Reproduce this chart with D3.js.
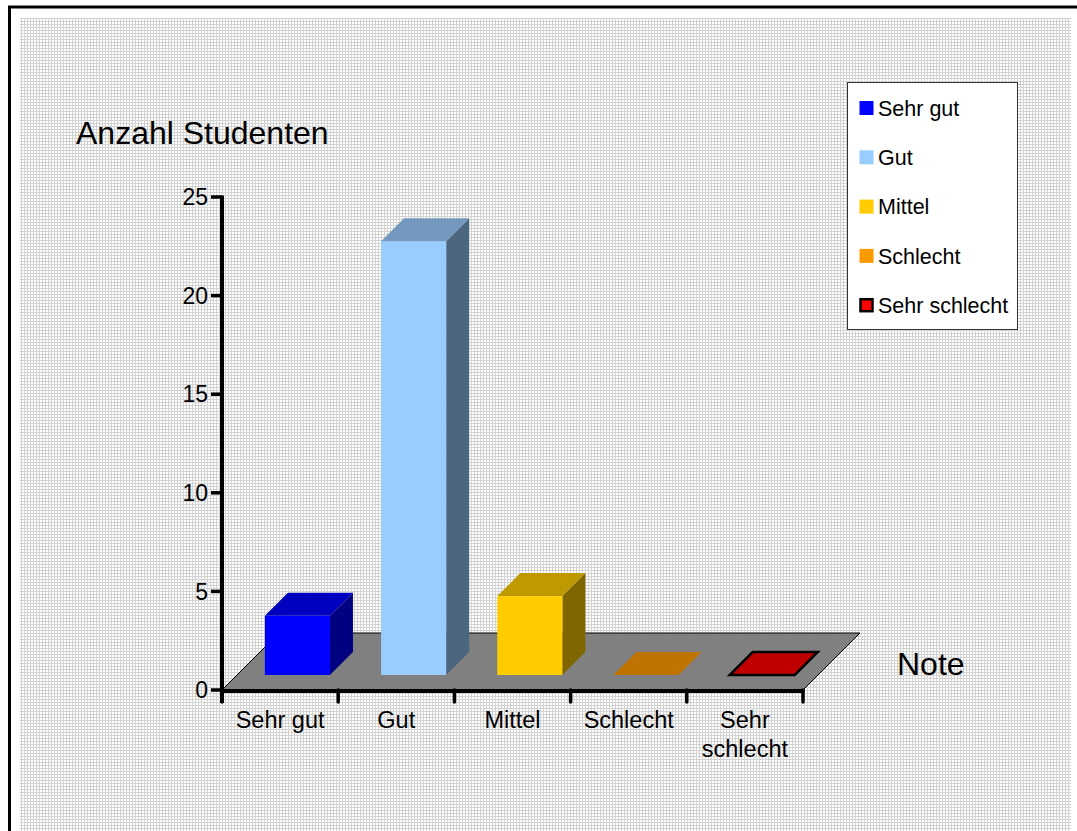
<!DOCTYPE html>
<html>
<head>
<meta charset="utf-8">
<script src="https://cdn.jsdelivr.net/npm/d3@7"></script>
<style>
  html, body { margin: 0; padding: 0; background: #fff; }
  svg { display: block; font-family: "Liberation Sans", Arial, sans-serif; }
</style>
</head>
<body>
<svg id="chart" width="1077" height="831"></svg>
<script>
// Notenverteilung: Anzahl Studenten je Note
const categories = ["Sehr gut", "Gut", "Mittel", "Schlecht", "Sehr schlecht"];
const counts = [3, 22, 4, 0, 0];
const frontColors = ["#0000ff", "#99ccff", "#ffcc00", "#ff9900", "#ff0000"];
const yTicks = [0, 5, 10, 15, 20, 25];
const axisTitleY = "Anzahl Studenten";
const axisTitleX = "Note";

const svg = d3.select("#chart");

// shading helpers for the 3D faces
const shade = (c, k) => { const r = d3.rgb(c); return d3.rgb(r.r * k, r.g * k, r.b * k).formatHex(); };

// background hatch pattern
const defs = svg.append("defs");
const pat = defs.append("pattern").attr("id", "grid").attr("width", 3).attr("height", 3)
  .attr("patternUnits", "userSpaceOnUse");
pat.append("rect").attr("width", 3).attr("height", 3).attr("fill", "#ffffff");
pat.append("rect").attr("x", 0).attr("y", 0).attr("width", 1).attr("height", 3).attr("fill", "#d2d2d2");
pat.append("rect").attr("x", 0).attr("y", 0).attr("width", 3).attr("height", 1).attr("fill", "#d2d2d2");

svg.append("rect").attr("x", 20).attr("y", 18).attr("width", 1051).attr("height", 813).attr("fill", "url(#grid)");
// outer frame (top and left edges)
svg.append("path").attr("d", "M9.5,831 V7 H1077").attr("fill", "none").attr("stroke", "#000").attr("stroke-width", 3);

// plot geometry
const x0 = 222, x1 = 803, yBase = 690, yTop = 197;
const floorDepth = 57;     // depth of the floor in px (45° oblique)
const barFront = 15;       // depth position of the bar front face
const barDepth = 23;       // bar depth

const x = d3.scaleBand().domain(categories).range([x0, x1]).padding(0);
const y = d3.scaleLinear().domain([0, 25]).range([yBase, yTop]);
const bw = x.bandwidth();

// floor
svg.append("path")
  .attr("d", `M${x0},${yBase} L${x1},${yBase} L${x1 + floorDepth},${yBase - floorDepth} L${x0 + floorDepth},${yBase - floorDepth} Z`)
  .attr("fill", "#808080").attr("stroke", "#000").attr("stroke-width", 1);

// bars
const g = svg.append("g");
categories.forEach((c, i) => {
  const v = counts[i];
  const bx = x(c) + barFront + bw * 0.24;
  const bwid = bw * 0.56;
  const yb = y(0) - barFront;
  const yt = y(v) - barFront;
  const d = barDepth;
  const col = frontColors[i];
  const outlined = i === 4;
  const stroke = outlined ? "#000" : "none";
  const sw = outlined ? 2.5 : 0;
  if (v > 0) {
    // side
    g.append("path").attr("d", `M${bx + bwid},${yt} L${bx + bwid + d},${yt - d} L${bx + bwid + d},${yb - d} L${bx + bwid},${yb} Z`)
      .attr("fill", shade(col, 0.5)).attr("stroke", stroke).attr("stroke-width", sw);
    // front
    g.append("rect").attr("x", bx).attr("y", yt).attr("width", bwid).attr("height", yb - yt)
      .attr("fill", col).attr("stroke", stroke).attr("stroke-width", sw);
  }
  // top
  g.append("path").attr("d", `M${bx},${yt} L${bx + bwid},${yt} L${bx + bwid + d},${yt - d} L${bx + d},${yt - d} Z`)
    .attr("fill", shade(col, 0.75)).attr("stroke", stroke).attr("stroke-width", sw).attr("stroke-linejoin", "miter");
});

// y axis
const ax = svg.append("g");
ax.append("line").attr("x1", x0).attr("x2", x0).attr("y1", yTop - 1.5).attr("y2", 703)
  .attr("stroke", "#000").attr("stroke-width", 4);
yTicks.forEach(t => {
  ax.append("line").attr("x1", 211).attr("x2", x0).attr("y1", y(t)).attr("y2", y(t))
    .attr("stroke", "#000").attr("stroke-width", 3.5);
  ax.append("text").attr("x", 208).attr("y", y(t)).attr("dy", "0.36em")
    .attr("text-anchor", "end").attr("font-size", 23).text(t);
});

// x axis
ax.append("line").attr("x1", x0).attr("x2", x1 + 1.5).attr("y1", yBase + 1).attr("y2", yBase + 1)
  .attr("stroke", "#000").attr("stroke-width", 4);
const xTickPos = categories.map(c => x(c) + bw).concat([x0]);
xTickPos.forEach(p => {
  ax.append("line").attr("x1", p).attr("x2", p).attr("y1", yBase).attr("y2", 702)
    .attr("stroke", "#000").attr("stroke-width", 3.5).attr("stroke-linecap", "round");
});
categories.forEach(c => {
  const words = c === "Sehr schlecht" ? ["Sehr", "schlecht"] : [c];
  const t = ax.append("text").attr("x", x(c) + bw / 2).attr("y", 728)
    .attr("text-anchor", "middle").attr("font-size", 23.5);
  words.forEach((w, k) => t.append("tspan").attr("x", x(c) + bw / 2).attr("dy", k === 0 ? 0 : 29).text(w));
});

// axis titles
svg.append("text").attr("x", 76).attr("y", 144).attr("font-size", 32).text(axisTitleY);
svg.append("text").attr("x", 897).attr("y", 675).attr("font-size", 32).text(axisTitleX);

// legend
const lg = svg.append("g");
lg.append("rect").attr("x", 847.5).attr("y", 82.5).attr("width", 170).attr("height", 247)
  .attr("fill", "#fff").attr("stroke", "#333").attr("stroke-width", 1);
categories.forEach((c, i) => {
  const cy = 108 + i * 49.3;
  const outlined = i === 4;
  lg.append("rect").attr("x", outlined ? 860.5 : 859.5).attr("y", cy - 7 + (outlined ? 1 : 0))
    .attr("width", outlined ? 12 : 14).attr("height", outlined ? 12 : 14)
    .attr("fill", frontColors[i]).attr("stroke", outlined ? "#000" : "none").attr("stroke-width", outlined ? 2.5 : 0);
  lg.append("text").attr("x", 878).attr("y", cy).attr("dy", "0.36em").attr("font-size", 21.5).text(c);
});
</script>
</body>
</html>
